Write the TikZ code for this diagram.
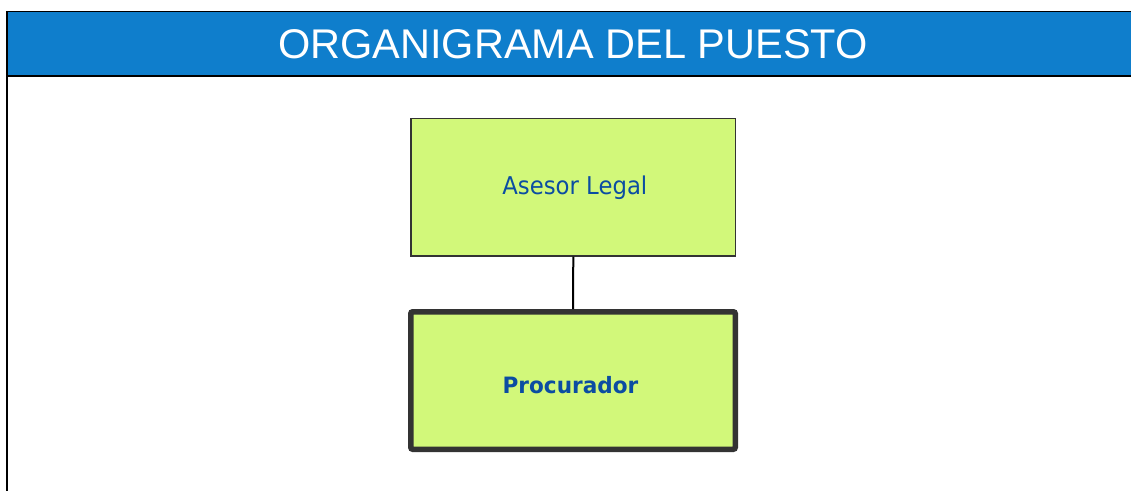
\documentclass[tikz,border=0pt]{standalone}
\usepackage{fontspec}
\setmainfont{Liberation Sans}
\newfontfamily\boxfont{DejaVu Sans}
\definecolor{hdrblue}{RGB}{15,126,204}
\definecolor{boxgreen}{RGB}{210,248,122}
\definecolor{boxedge}{RGB}{51,51,51}
\definecolor{txtblue}{RGB}{11,77,162}
\tikzset{
  orgbox/.style={draw=boxedge, fill=boxgreen, minimum width=324.5pt, minimum height=137.5pt, inner sep=0pt, text=txtblue},
  hdrtitle/.style={text=white, inner sep=0pt, anchor=base, font=\fontsize{41.5}{48}\selectfont},
  conn/.style={draw=black, line width=2pt}
}
\begin{document}
\begin{tikzpicture}[x=1pt,y=-1pt]
\useasboundingbox (0,0) rectangle (1131,491);
% header band
\fill[hdrblue] (6.5,11.5) rectangle (1131,75.5);
\draw[line width=1pt] (6,11.5) -- (1131,11.5);
\draw[line width=1.8pt] (6,75.8) -- (1131,75.8);
\draw[line width=2pt] (6.8,11) -- (6.8,491);
\node[hdrtitle] (title) at (573,58.3) {ORGANIGRAMA DEL PUESTO};
% boxes
\node[orgbox, line width=1.3pt, text height=17.7pt, text depth=4.1pt,
      font=\boxfont\fontsize{24.5}{28}\selectfont] (asesor) at (573.3,187.3) {\hspace*{3pt}\scalebox{0.93}[1]{Asesor Legal}};
\node[orgbox, line width=5.5pt, rounded corners=2pt, text height=26pt, text depth=0pt,
      font=\boxfont\bfseries\fontsize{22.5}{26}\selectfont] (procurador) at (573,380.5) {\scalebox{0.96}[1]{Procurador}\hspace*{5pt}};
\draw[conn] (asesor.south) -- (procurador.north);
\end{tikzpicture}
\end{document}
